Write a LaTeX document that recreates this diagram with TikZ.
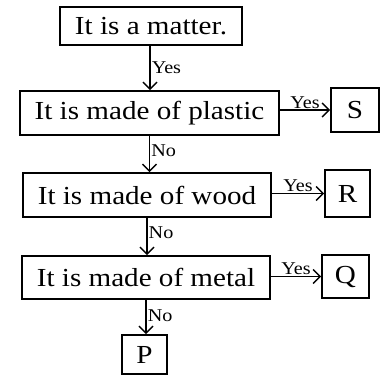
\documentclass[tikz,border=0pt]{standalone}
\usepackage{fontspec}
\setmainfont{Liberation Serif}[FakeStretch=1.12]
\usetikzlibrary{arrows.meta}
\begin{document}
\begin{tikzpicture}[x=1pt,y=-1pt,
  box/.style={draw, line width=1.6pt, inner sep=0pt, font=\fontsize{26}{30}\selectfont},
  arr/.style={line width=1.5pt, -{Straight Barb[length=7pt,width=14pt,line width=1.5pt]}},
  lab/.style={font=\fontsize{18}{20}\selectfont, inner sep=1pt}]
\useasboundingbox (0,0) rectangle (384,378);
\node[box, minimum width=182pt, minimum height=38pt] (b1) at (151,26) {It is a matter.};
\node[box, minimum width=259pt, minimum height=44pt] (b2) at (149.5,113) {It is made of plastic};
\node[box, minimum width=48pt, minimum height=44pt] (s) at (355,110) {S};
\node[box, minimum width=248pt, minimum height=44pt] (b3) at (147,195) {It is made of wood};
\node[box, minimum width=45pt, minimum height=47pt] (r) at (347.5,193.5) {R};
\node[box, minimum width=248pt, minimum height=43pt] (b4) at (146,277.5) {It is made of metal};
\node[box, minimum width=47pt, minimum height=43pt] (q) at (345.5,276.5) {Q};
\node[box, minimum width=45pt, minimum height=39pt] (p) at (144.5,354.5) {P};
\draw[arr] ([xshift=-1pt]b1.south) -- ([xshift=-1pt]b1.south |- b2.north) node[lab, midway, right] {Yes};
\draw[arr] (b2.south) -- (b2.south |- b3.north) node[lab, pos=0.4, right] {No};
\draw[arr] (b3.south) -- (b3.south |- b4.north) node[lab, pos=0.4, right] {No};
\draw[arr] (b4.south) -- (b4.south |- p.north) node[lab, pos=0.45, right] {No};
\draw[arr] (s.west -| b2.east) -- (s.west) node[lab, midway, above] {Yes};
\draw[arr] (r.west -| b3.east) -- (r.west) node[lab, midway, above] {Yes};
\draw[arr] (q.west -| b4.east) -- (q.west) node[lab, midway, above] {Yes};
\end{tikzpicture}
\end{document}
